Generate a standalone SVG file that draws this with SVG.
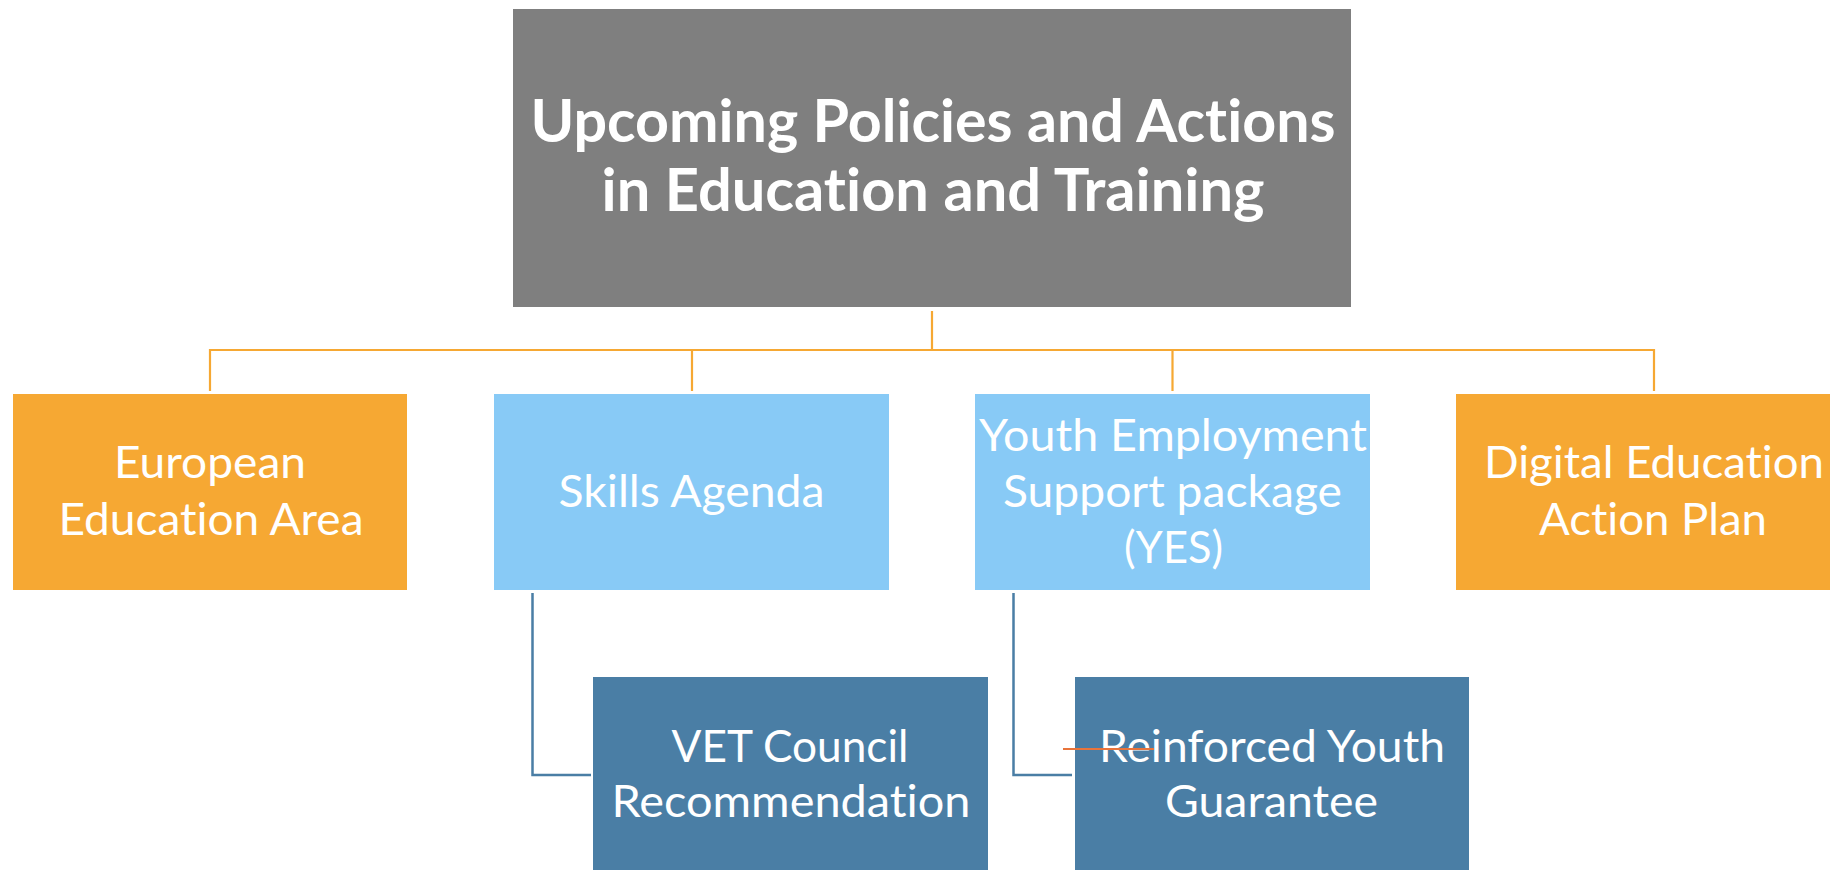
<svg xmlns="http://www.w3.org/2000/svg" width="1830" height="870" viewBox="0 0 1830 870">
<style>
.t{font-family:Lato,"Open Sans","Liberation Sans",sans-serif;fill:#FFFFFF;text-anchor:middle;font-variant-ligatures:none;font-feature-settings:"liga" 0,"dlig" 0}
.title{font-size:59px;font-weight:bold}
.lbl{font-size:45px}
.orange{fill:#F6A833}
.light{fill:#88CAF6}
.dark{fill:#4A7EA5}
.gray{fill:#7F7F7F}
.oc{fill:none;stroke:#F6A833;stroke-width:2.2}
.bc{fill:none;stroke:#4A7EA5;stroke-width:2.5}
</style>
<rect width="1830" height="870" fill="#FFFFFF"/>
<g id="connectors">
<path class="oc" d="M932 311V350M210 391V350H1654V391M692 350V391M1172.5 350V391"/>
<path class="bc" d="M532.5 593V775H591"/>
<path class="bc" d="M1013.5 593V775H1072"/>
</g>
<g id="root">
<rect class="gray" x="513" y="9" width="838" height="298"/>
<text class="t title" x="933" y="141.7" textLength="805" lengthAdjust="spacingAndGlyphs">Upcoming Policies and Actions</text>
<text class="t title" x="933" y="210.7" textLength="663" lengthAdjust="spacingAndGlyphs">in Education and Training</text>
</g>
<g id="european-education-area">
<rect class="orange" x="13" y="394" width="394" height="196"/>
<text class="t lbl" x="210" y="478.3" textLength="192" lengthAdjust="spacingAndGlyphs">European</text>
<text class="t lbl" x="211" y="535" textLength="305" lengthAdjust="spacingAndGlyphs">Education Area</text>
</g>
<g id="skills-agenda">
<rect class="light" x="494" y="394" width="395" height="196"/>
<text class="t lbl" x="691.5" y="506.7" textLength="266" lengthAdjust="spacingAndGlyphs">Skills Agenda</text>
</g>
<g id="yes">
<rect class="light" x="975" y="394" width="395" height="196"/>
<text class="t lbl" x="1173" y="450.7" textLength="388" lengthAdjust="spacingAndGlyphs">Youth Employment</text>
<text class="t lbl" x="1172.5" y="506.7" textLength="339" lengthAdjust="spacingAndGlyphs">Support package</text>
<text class="t lbl" x="1173.5" y="563.3" textLength="99" lengthAdjust="spacingAndGlyphs">(YES)</text>
</g>
<g id="digital-education-action-plan">
<rect class="orange" x="1456" y="394" width="394" height="196"/>
<text class="t lbl" x="1654" y="478.3" textLength="340" lengthAdjust="spacingAndGlyphs">Digital Education</text>
<text class="t lbl" x="1653" y="535" textLength="228" lengthAdjust="spacingAndGlyphs">Action Plan</text>
</g>
<g id="vet-council-recommendation">
<rect class="dark" x="593" y="677" width="395" height="200"/>
<text class="t lbl" x="790" y="761.7" textLength="237" lengthAdjust="spacingAndGlyphs">VET Council</text>
<text class="t lbl" x="791" y="817.3" textLength="359" lengthAdjust="spacingAndGlyphs">Recommendation</text>
</g>
<g id="reinforced-youth-guarantee">
<rect class="dark" x="1075" y="677" width="394" height="200"/>
<text class="t lbl" x="1272" y="761.7" textLength="346" lengthAdjust="spacingAndGlyphs">Reinforced Youth</text>
<text class="t lbl" x="1271.5" y="817.3" textLength="213" lengthAdjust="spacingAndGlyphs">Guarantee</text>
<line x1="1063" y1="749" x2="1154" y2="749" stroke="#E8743B" stroke-width="2"/>
</g>
</svg>
